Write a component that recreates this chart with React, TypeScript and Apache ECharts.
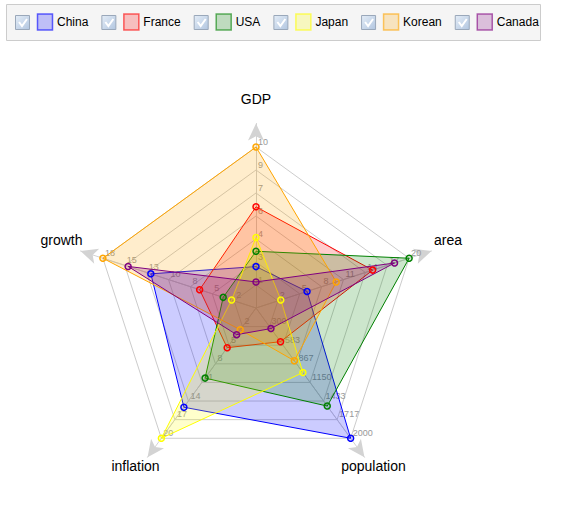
import React, { useEffect, useRef } from 'react';
import * as echarts from 'echarts';

// Indicators in the reference's clockwise order (from the top)
const indicatorNames = ['GDP', 'area', 'population', 'inflation', 'growth'];
const indicatorMax = [10, 20, 2000, 20, 18];
const indicatorMin = [-0.5, -1, 16.67, -1, -0.2];

const countries = ['China', 'France', 'USA', 'Japan', 'Korean', 'Canada'];
const countryColors = ['#0000ff', '#ff0000', '#008000', '#ffff00', '#ffa500', '#800080'];

// values per indicator: GDP, area, population, inflation, growth
const chinaValues = [2.2, 6, 2000, 15, 12.3];
const franceValues = [6.1, 15, 530, 5.4, 6.5];
const usaValues = [3.2, 20, 1510, 10.3, 3.7];
const japanValues = [4.1, 2.4, 1000, 20, 2.7];
const koreanValues = [10, 10, 820, 2.5, 18];
const canadaValues = [1.2, 18, 330, 3.3, 15];

const seriesValues = [chinaValues, franceValues, usaValues, japanValues, koreanValues, canadaValues];

// ECharts radar runs counter-clockwise; map reference order onto it
const radarOrder = [0, 4, 3, 2, 1];

const FONT = '"Liberation Sans", Arial, sans-serif';
const CX = 256;
const CY = 308;
const R = 161;

function hexToRgba(hex: string, a: number) {
  const n = parseInt(hex.slice(1), 16);
  return `rgba(${(n >> 16) & 255},${(n >> 8) & 255},${n & 255},${a})`;
}

function measure(text: string, font: string) {
  const c = document.createElement('canvas').getContext('2d');
  if (!c) return text.length * 6.5;
  c.font = font;
  return c.measureText(text).width;
}

export default function App() {
  const ref = useRef<HTMLDivElement>(null);
  useEffect(() => {
    if (!ref.current) return;
    const chart = echarts.init(ref.current, null, { renderer: 'svg' });

    const indicators = radarOrder.map((i) => ({
      name: indicatorNames[i],
      min: indicatorMin[i],
      max: indicatorMax[i],
    }));

    // Legend built from the series names
    const legendChildren: any[] = [];
    let x = 15;
    countries.forEach((name, i) => {
      const color = countryColors[i];
      legendChildren.push({
        type: 'rect',
        z: 21,
        shape: { x: x + 0.5, y: 15.5, width: 14, height: 14 },
        style: {
          fill: new echarts.graphic.LinearGradient(0, 0, 1, 1, [
            { offset: 0, color: '#e4edf7' },
            { offset: 1, color: '#b2c6e0' },
          ]),
          stroke: '#9aa8ba',
          lineWidth: 1,
        },
      });
      legendChildren.push({
        type: 'polyline',
        z: 22,
        shape: { points: [[x + 4, 22], [x + 7, 26], [x + 12, 19]] },
        style: { stroke: '#ffffff', lineWidth: 2, fill: null },
      });
      legendChildren.push({
        type: 'rect',
        z: 21,
        shape: { x: x + 22.5, y: 14, width: 15, height: 16 },
        style: {
          fill: hexToRgba(color, 0.22),
          stroke: hexToRgba(color, 0.6),
          lineWidth: 1.5,
        },
      });
      legendChildren.push({
        type: 'text',
        z: 21,
        x: x + 42,
        y: 22,
        style: {
          text: name,
          font: `12px ${FONT}`,
          fill: '#000',
          verticalAlign: 'middle',
          align: 'left',
        },
      });
      x = x + 42 + measure(name, `12px ${FONT}`) + 13;
    });

    const nameLabels = [
      { text: 'GDP', x: 256, y: 99 },
      { text: 'area', x: 448, y: 240 },
      { text: 'population', x: 373.5, y: 466 },
      { text: 'inflation', x: 135.5, y: 466 },
      { text: 'growth', x: 61.5, y: 240 },
    ];

    chart.setOption({
      animation: false,
      textStyle: { fontFamily: FONT },
      radar: [
        {
          center: [CX, CY],
          radius: R,
          startAngle: 90,
          splitNumber: 7,
          indicator: indicators,
          axisName: { show: false },
          axisLine: { lineStyle: { color: '#cccccc', width: 1 } },
          splitLine: { lineStyle: { color: '#cccccc', width: 1 } },
          splitArea: { show: false },
          axisTick: { show: false },
          axisLabel: {
            show: true,
            color: '#999999',
            fontSize: 9,
            margin: 0,
            align: 'left',
            verticalAlign: 'bottom',
            padding: [0, 0, 1, 2],
            formatter: (v: number, idx: number) => (idx === 0 ? '' : String(Math.round(v))),
          },
          z: 1,
        },
        {
          center: [CX, CY],
          radius: 184.5,
          startAngle: 90,
          splitNumber: 1,
          indicator: indicators,
          axisName: { show: false },
          axisLine: {
            show: true,
            symbol: ['none', 'arrow'],
            symbolSize: [12, 17],
            lineStyle: { color: '#d3d3d3', width: 1 },
          },
          splitLine: { show: false },
          splitArea: { show: false },
          axisTick: { show: false },
          axisLabel: { show: false },
          z: 0,
        },
      ],
      series: countries.map((name, i) => ({
        type: 'radar',
        name,
        radarIndex: 0,
        symbol: 'circle',
        symbolSize: 6,
        itemStyle: {
          color: hexToRgba(countryColors[i], 0.15),
          borderColor: countryColors[i],
          borderWidth: 1.5,
        },
        lineStyle: { color: countryColors[i], width: 1 },
        areaStyle: { color: countryColors[i], opacity: 0.2 },
        data: [{ name, value: radarOrder.map((k) => seriesValues[i][k]) }],
        z: 2,
      })),
      graphic: [
        {
          type: 'rect',
          shape: { x: 6.5, y: 4.5, width: 534, height: 36 },
          style: { fill: '#f5f5f5', stroke: '#cccccc', lineWidth: 1 },
          z: 20,
        },
        { type: 'group', children: legendChildren, z: 21 },
        ...nameLabels.map((n) => ({
          type: 'text',
          x: n.x,
          y: n.y,
          style: {
            text: n.text,
            font: `14px ${FONT}`,
            fill: '#000',
            align: 'center',
            verticalAlign: 'middle',
          },
          z: 20,
        })),
      ],
    });
    return () => chart.dispose();
  }, []);
  return (
    <div
      ref={ref}
      style={{ position: 'absolute', left: 0, top: 0, width: 561, height: 507 }}
    />
  );
}
